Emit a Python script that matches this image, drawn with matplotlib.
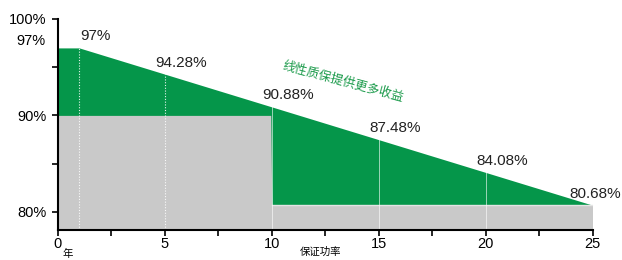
import numpy as np
import matplotlib
matplotlib.use("Agg")
import matplotlib.pyplot as plt

plt.rcParams['font.family'] = ['Liberation Sans', 'Noto Sans CJK SC']

# data
years = [0, 1, 5, 10, 15, 20, 25]
power = [97, 97, 94.28, 90.88, 87.48, 84.08, 80.68]
label_years = [1, 5, 10, 15, 20, 25]
label_text = ['97%', '94.28%', '90.88%', '87.48%', '84.08%', '80.68%']
step_years = [0, 10, 10, 25]
step_power = [90, 90, 80.68, 80.68]
ytick_vals = [80, 90, 100]
ytick_text = ['80%', '90%', '100%']
xtick_vals = [0, 5, 10, 15, 20, 25]

green = '#05964a'
gray = '#c9c9c9'
ymin = 78.1

fig = plt.figure(figsize=(6.22, 2.6), dpi=100)
ax = fig.add_axes([0.093, 0.115, 0.86, 0.812])

# gray guaranteed power
ax.fill_between(step_years, ymin, step_power, color=gray, lw=0)
# green extra output between step and linear curve
xs = np.linspace(0, 25, 501)
lin = np.interp(xs, years, power)
base = np.where(xs < 10, 90, 80.68)
ax.fill_between(xs, base, lin, color=green, lw=0)
ax.plot([10, 25], [80.68, 80.68], color='#e4e4e4', lw=1)

# light guide lines
for x in label_years[:-1]:
    top = np.interp(x, years, power)
    if x < 10:
        ax.plot([x, x], [ymin, top], color='white', lw=0.8, ls=(0, (1, 1.5)), alpha=0.9)
    else:
        ax.plot([x, x], [ymin, top], color='white', lw=0.7, alpha=0.6)

# value labels
for x, t in zip(label_years, label_text):
    y = np.interp(x, years, power)
    ax.text(x + 0.75 if x < 25 else x + 0.1, y + 1.2, t, ha='center', va='center',
            fontsize=11, color='#222222')

ax.text(13.3, 93.5, '线性质保提供更多收益', rotation=-15, ha='center', va='center',
        fontsize=9, color='#1a9a4a')

ax.set_xlim(0, 25)
ax.set_ylim(ymin, 100)
ax.spines['top'].set_visible(False)
ax.spines['right'].set_visible(False)
ax.spines['left'].set_linewidth(1.5)
ax.spines['bottom'].set_linewidth(1.5)

ax.set_yticks(ytick_vals)
ax.set_yticklabels(ytick_text, fontsize=10.5)
ax.set_yticks([85, 95], minor=True)
ax.set_xticks(xtick_vals)
ax.set_xticklabels([str(v) for v in xtick_vals], fontsize=10.5)
ax.set_xticks([2.5, 7.5, 12.5, 17.5, 22.5], minor=True)
ax.tick_params(axis='both', which='both', direction='out', length=4, width=1.2, pad=1)
ax.tick_params(axis='y', which='major', pad=4)

ax.text(-1.95, 97.7, '97%', ha='left', va='center', fontsize=10.5, clip_on=False)
fig.text(0.109, 0.022, '年', fontsize=7.5, ha='center', va='center')
fig.text(0.516, 0.03, '保证功率', fontsize=7.5, ha='center', va='center')

fig.savefig('out.png', dpi=100)
